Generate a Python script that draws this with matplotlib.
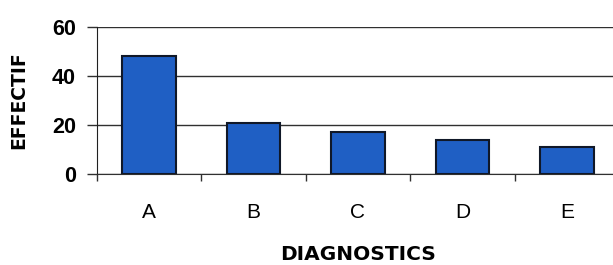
import numpy as np
from matplotlib import pyplot as plt

# data
categories = ['A', 'B', 'C', 'D', 'E']
effectif = [48, 21, 17, 14, 11]
yticks = [0, 20, 40, 60]

fig = plt.figure(figsize=(6.13, 2.65), dpi=100)
ax = fig.add_axes([0.158, 0.343, 0.852, 0.555])

x = np.arange(len(categories))
ax.bar(x, effectif, width=0.51, color='#1f5fc4', edgecolor='#101828',
       linewidth=1.5, zorder=3)

ax.set_xlim(-0.5, 4.5)
ax.set_ylim(0, 60)
ax.set_yticks(yticks)
ax.yaxis.grid(True, color='#303030', linewidth=1.0, zorder=0)

# ticks between categories, labels at the centers
ax.set_xticks(np.arange(-0.5, 5.0, 1.0))
ax.set_xticklabels([])
ax.set_xticks(x, minor=True)
ax.set_xticklabels(categories, minor=True)
ax.tick_params(axis='x', which='major', length=5, width=1, color='#303030', direction='out')
ax.tick_params(axis='x', which='minor', length=0, pad=21, labelsize=15)
ax.tick_params(axis='y', length=7, width=1, color='#303030', pad=8, labelsize=15.5)
for lab in ax.get_yticklabels():
    lab.set_fontweight('bold')
    lab.set_family('Liberation Sans')
for lab in ax.get_xticklabels(minor=True):
    lab.set_family('Liberation Sans')

for s in ['top', 'right']:
    ax.spines[s].set_visible(False)
ax.spines['left'].set_color('#202020')
ax.spines['bottom'].set_color('#303030')

ax.set_xlabel("DIAGNOSTICS", fontsize=14.5, fontweight='bold')
ax.set_ylabel("EFFECTIF", fontsize=13.5, fontweight='bold')
ax.xaxis.set_label_coords(0.5, -0.485)
ax.yaxis.set_label_coords(-0.131, 0.5)

plt.savefig('out.png', dpi=100)
